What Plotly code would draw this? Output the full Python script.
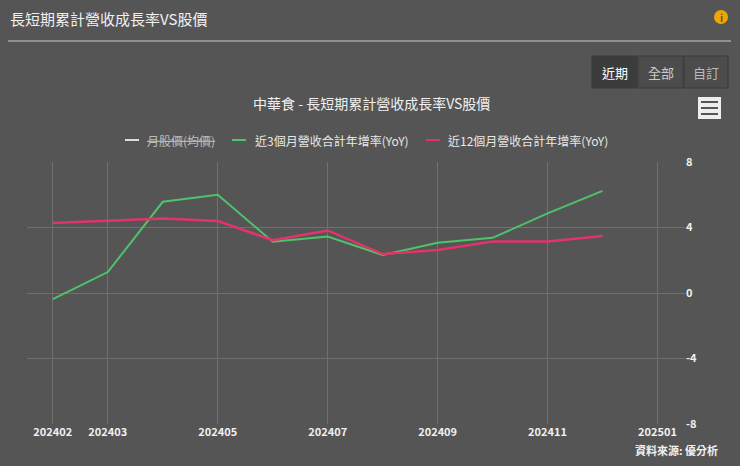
import plotly.graph_objects as go

months = ["202402","202403","202404","202405","202406","202407","202408","202409","202410","202411","202412"]
tick_labels = ["202402","202403","202405","202407","202409","202411","202501"]
tick_idx = [0, 1, 3, 5, 7, 9, 11]
yoy3 = [-0.38, 1.28, 5.57, 6.0, 3.13, 3.45, 2.32, 3.07, 3.37, 4.86, 6.24]
yoy12 = [4.27, 4.41, 4.55, 4.39, 3.23, 3.82, 2.38, 2.62, 3.15, 3.15, 3.48]
legend_names = ["月股價(均價)", "近3個月營收合計年增率(YoY)", "近12個月營收合計年增率(YoY)"]

FONT = "Noto Sans CJK TC"
BG = "#555555"
L, R, T, B = 27, 685, 162, 424
def xp(px): return (px - L) / (R - L)
def yp(py): return (B - py) / (B - T)

x = list(range(len(months)))
fig = go.Figure()
fig.add_trace(go.Scatter(x=x, y=yoy3, mode="lines", line=dict(color="#4fc36a", width=2),
                         name=legend_names[1], text=months))
fig.add_trace(go.Scatter(x=x, y=yoy12, mode="lines", line=dict(color="#e2336b", width=2.5),
                         name=legend_names[2], text=months))

shapes = [
    dict(type="line", x0=xp(8), x1=xp(731), y0=yp(41), y1=yp(41), line=dict(color="#cccccc", width=1)),
    dict(type="rect", x0=xp(698), x1=xp(721), y0=yp(119), y1=yp(97), fillcolor="#eeeeee", line=dict(width=0)),
    dict(type="circle", x0=xp(714), x1=xp(728), y0=yp(24), y1=yp(10), fillcolor="#f0a500", line=dict(width=0)),
]
for v in [102, 108, 114]:
    shapes.append(dict(type="line", x0=xp(701), x1=xp(718), y0=yp(v), y1=yp(v), line=dict(color="#555555", width=2)))
ann = [
    dict(text="長短期累計營收成長率VS股價", x=xp(8), y=yp(18), xanchor="left", font=dict(size=15, color="#f0f0f0")),
    dict(text="<b>i</b>", x=xp(721), y=yp(17), xanchor="center", font=dict(size=10, color="#555555")),
    dict(text="中華食 - 長短期累計營收成長率VS股價", x=xp(371), y=yp(103), xanchor="center", font=dict(size=14, color="#f0f0f0")),
    dict(text="<b>資料來源: 優分析</b>", x=xp(720), y=yp(450), xanchor="right", font=dict(size=11, color="#f0f0f0")),
]
btns = [("近期", 592, 637, "#3c3c3c", "#ffffff"), ("全部", 638, 683, "#4c4c4c", "#cccccc"),
        ("自訂", 684, 728, "#4c4c4c", "#bbbbbb")]
for label, a, b, fill, col in btns:
    shapes.append(dict(type="rect", x0=xp(a), x1=xp(b), y0=yp(88), y1=yp(56), fillcolor=fill,
                       line=dict(color="#3a3a3a", width=1)))
    ann.append(dict(text=label, x=xp((a + b) / 2), y=yp(72), xanchor="center", font=dict(size=13, color=col)))
leg = [(125, 145, "#dddddd", "<span style='text-decoration:line-through'>" + legend_names[0] + "</span>", "#bbbbbb"),
       (232, 253, "#4fc36a", legend_names[1], "#e8e8e8"),
       (426, 446, "#e2336b", legend_names[2], "#e8e8e8")]
for lx, tx, c, name, tc in leg:
    shapes.append(dict(type="line", x0=xp(lx), x1=xp(lx + 14), y0=yp(140), y1=yp(140), line=dict(color=c, width=2)))
    ann.append(dict(text=name, x=xp(tx), y=yp(140), xanchor="left", font=dict(size=12, color=tc)))
for s in shapes:
    s.update(xref="paper", yref="paper")
for a in ann:
    a.update(xref="paper", yref="paper", yanchor="middle", showarrow=False)

fig.update_layout(
    width=740, height=466, paper_bgcolor=BG, plot_bgcolor=BG,
    margin=dict(l=L, r=740 - R, t=T, b=466 - B, autoexpand=False),
    font=dict(family=FONT, color="#e6e6e6"),
    showlegend=False,
    xaxis=dict(range=[-0.47, 11.5], tickvals=tick_idx, ticktext=["<b>%s</b>" % t for t in tick_labels],
               showgrid=True, gridcolor="#707070", zeroline=False, tickfont=dict(size=11, color="#f0f0f0"),
               showline=False, ticks="", automargin=False),
    yaxis=dict(side="right", range=[-8, 8], tickvals=[-8, -4, 0, 4, 8],
               ticktext=["<b>%d</b>" % v for v in [-8, -4, 0, 4, 8]], gridcolor="#707070",
               zeroline=False, tickfont=dict(size=11, color="#f0f0f0"), ticks="", automargin=False),
    shapes=shapes, annotations=ann,
)
fig.write_html("out.html", config={"displayModeBar": False})
with open("out.html", encoding="utf-8") as f:
    html = f.read()
html = html.replace("<head>", "<head><style>html,body{margin:0;padding:0;background:#555555;overflow:hidden}</style>", 1)
with open("out.html", "w", encoding="utf-8") as f:
    f.write(html)
